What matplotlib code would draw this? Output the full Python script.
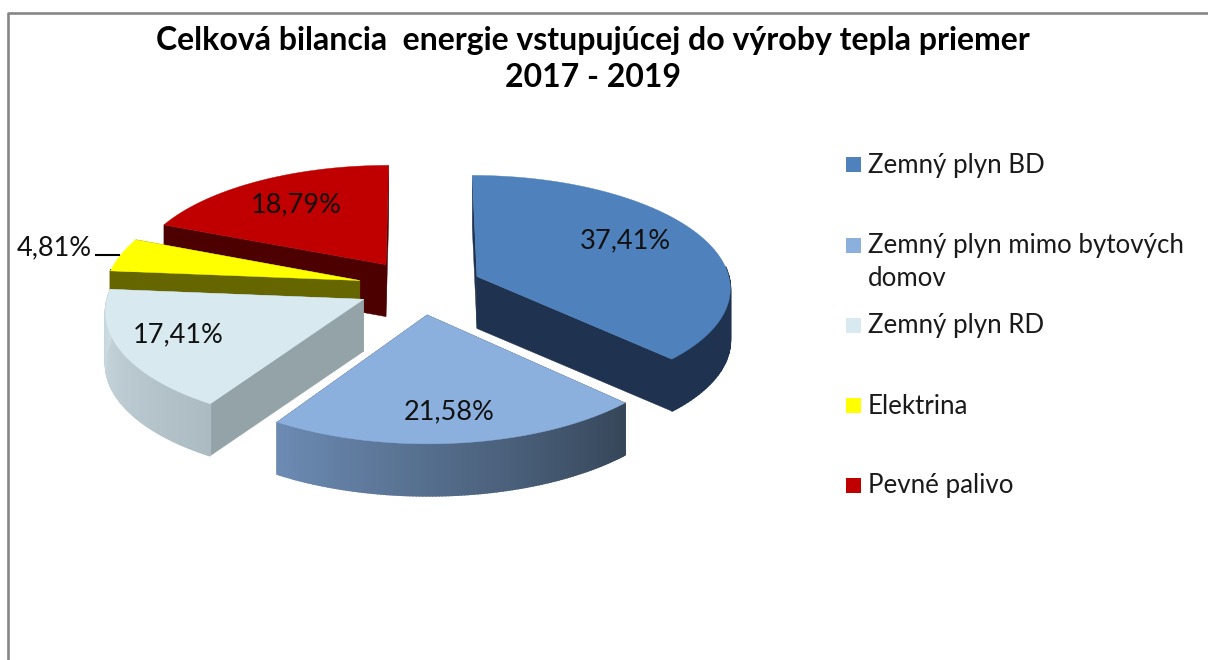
"""
Exploded 3D style pie of the heat production energy balance.
"""

import numpy as np
from matplotlib import pyplot as plt
from matplotlib.colors import to_rgb
from matplotlib.patches import Rectangle

plt.rcParams["font.family"] = ["Lato", "DejaVu Sans"]

TITLE = "Celková bilancia  energie vstupujúcej do výroby tepla priemer\n2017 - 2019"
CATEGORIES = ["Zemný plyn BD", "Zemný plyn mimo bytových\ndomov", "Zemný plyn RD",
              "Elektrina", "Pevné palivo"]
SHARES = [37.41, 21.58, 17.41, 4.81, 18.79]
SHARE_LABELS = ["37,41%", "21,58%", "17,41%", "4,81%", "18,79%"]

TOP_COLORS = ["#4F81BD", "#8CB0DE", "#D8EAF0", "#FFFF00", "#C00000"]
# Cut face colour, then the outer wall at the start and end of each wedge
CUT_COLORS = ["#1F3350", "#374860", "#94A3A7", "#666600", "#4D0000"]
WALL_START = ["#1F3350", "#364659", "#ABBBC1", "#666600", "#4D0000"]
WALL_END = ["#1F3350", "#6C8BB3", "#CCDCE2", "#666600", "#4D0000"]
LABEL_XY = [(625, 241), (449, 412), (178, 335), (54, 248), (296, 205)]
LEGEND_Y = [165, 246, 326, 406, 486]

# Projection of the tilted disc, in pixels
CX, CY = 420, 287
RX, RY = 254, 112
PERSPECTIVE = 0.09
EXPLODE = 0.245
DEPTH = 52


def project(u, v):
    """
    Project points on the unit disc to the picture, v pointing away from us.
    """
    scale = 1 + PERSPECTIVE*v
    return CX + RX*u/scale, CY - RY*v/scale


def draw_wedge(ax, start, end, index, z):
    """
    Draw one exploded wedge: cut faces, outer wall and top.

    Args:
        ax: The axes, in pixel coordinates.
        start: Start angle in radians, clockwise from the top.
        end: End angle in radians.
        index: Position of the wedge in the colour lists.
        z: Drawing order of the wedge.
    """
    mid = (start + end)/2
    off_u, off_v = EXPLODE*np.sin(mid), EXPLODE*np.cos(mid)
    theta = np.linspace(start, end, 120)
    x, y = project(np.sin(theta) + off_u, np.cos(theta) + off_v)
    apex_x, apex_y = project(off_u, off_v)

    for ex, ey in ((x[0], y[0]), (x[-1], y[-1])):
        ax.fill([apex_x, ex, ex, apex_x], [apex_y, ey, ey + DEPTH, apex_y + DEPTH],
                color=CUT_COLORS[index], lw=0.3, zorder=z)

    c0, c1 = np.array(to_rgb(WALL_START[index])), np.array(to_rgb(WALL_END[index]))
    for i in range(len(theta) - 1):
        if np.cos(theta[i]) > 0.1:
            continue
        frac = i/(len(theta) - 2)
        ax.fill([x[i], x[i + 1], x[i + 1], x[i]],
                [y[i], y[i + 1], y[i + 1] + DEPTH, y[i] + DEPTH],
                color=c0 + (c1 - c0)*frac, lw=1.2, zorder=z)

    ax.fill(np.r_[apex_x, x], np.r_[apex_y, y], color=TOP_COLORS[index], lw=0.3, zorder=z)


fig = plt.figure(figsize=(12.08, 6.6), dpi=100)
ax = fig.add_axes([0, 0, 1, 1])
ax.set_xlim(0, 1208)
ax.set_ylim(660, 0)
ax.axis("off")

# Chart frame runs off the right and bottom of the screenshot
ax.plot([8, 8, 1208], [660, 13, 13], color="#868686", lw=1.9, zorder=0)

edges = np.radians(np.r_[0, np.cumsum(SHARES)]*360/sum(SHARES))
# Back wedges first, so the ones in front cover them
for z, i in enumerate([4, 3, 2, 0, 1]):
    draw_wedge(ax, edges[i], edges[i + 1], i, z + 1)

for label, (lx, ly) in zip(SHARE_LABELS, LABEL_XY):
    ax.text(lx, ly, label, ha="center", va="center", fontsize=19.5, color="#111111", zorder=20)
ax.plot([96, 119], [255, 255], color="black", lw=1.5, zorder=20)

ax.text(593, 59, TITLE, ha="center", va="center", fontsize=23, fontweight="bold",
        linespacing=1.36, color="black", zorder=20)

for name, color, ly in zip(CATEGORIES, TOP_COLORS, LEGEND_Y):
    ax.add_patch(Rectangle((845.5, ly - 8), 15, 15, color=color, lw=0, zorder=20))
    text_y = ly + 16 if "\n" in name else ly
    ax.text(868, text_y, name, ha="left", va="center", fontsize=18.6, color="#1a1a1a",
            linespacing=1.41, zorder=20)

fig.savefig("out.png", dpi=100)
